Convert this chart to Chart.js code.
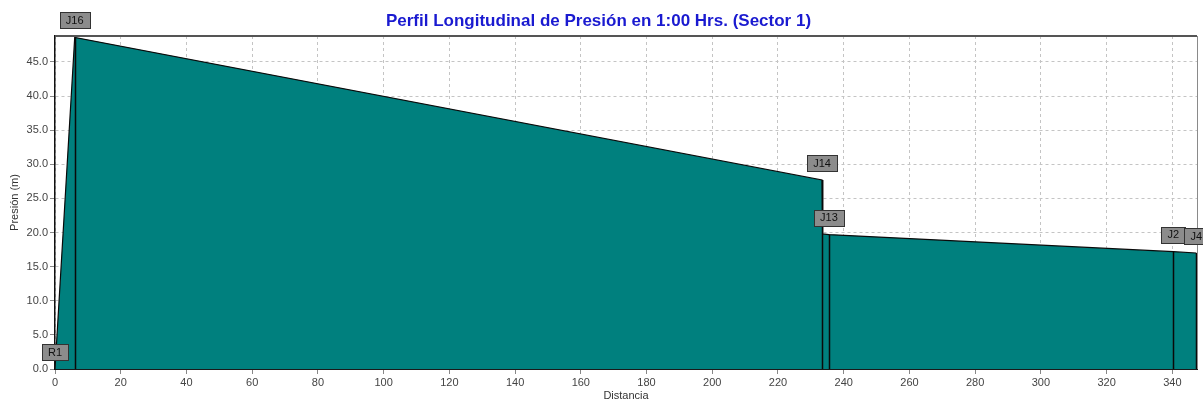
<!DOCTYPE html>
<html>
<head>
<meta charset="utf-8">
<script src="https://cdn.jsdelivr.net/npm/chart.js@4.4.1/dist/chart.umd.min.js"></script>
<style>
  html, body { margin: 0; padding: 0; background: #ffffff; }
  #wrap { width: 1203px; height: 403px; position: relative; }
</style>
</head>
<body>
<div id="wrap"><canvas id="c" width="1203" height="403"></canvas></div>
<script>
// Data
const distancia = [0, 6.0, 233.4, 233.6, 235.5, 340.3, 347.3];
const presion   = [0.0, 48.6, 27.7, 19.8, 19.7, 17.2, 17.0];
const nodos     = ['R1', 'J16', 'J14', '', 'J13', 'J2', 'J4'];
const nodoLinea = [false, true, true, false, true, true, true];
const xTicks = [0, 20, 40, 60, 80, 100, 120, 140, 160, 180, 200, 220, 240, 260, 280, 300, 320, 340];
const yTicks = [0, 5, 10, 15, 20, 25, 30, 35, 40, 45];
const titulo = 'Perfil Longitudinal de Presión en 1:00 Hrs. (Sector 1)';
const ejeX = 'Distancia';
const ejeY = 'Presión (m)';
const xMax = 347.5, yMax = 48.8;

const FONT = '"Liberation Sans", Arial, sans-serif';

const puntos = distancia.map((d, i) => ({ x: d, y: presion[i] }));

const marcoPlugin = {
  id: 'marco',
  afterDatasetsDraw(chart) {
    const { ctx, chartArea: a, scales: { x, y } } = chart;
    ctx.save();
    ctx.strokeStyle = '#0a0a0a';
    ctx.lineWidth = 1.5;
    distancia.forEach((d, i) => {
      if (!nodoLinea[i]) return;
      const px = Math.round(x.getPixelForValue(d)) + 0.5;
      ctx.beginPath();
      ctx.moveTo(px, y.getPixelForValue(presion[i]));
      ctx.lineTo(px, y.getPixelForValue(0));
      ctx.stroke();
    });
    ctx.strokeStyle = '#555555';
    ctx.lineWidth = 2;
    ctx.beginPath();
    ctx.moveTo(a.left, a.top);
    ctx.lineTo(a.right, a.top);
    ctx.stroke();
    ctx.strokeStyle = '#8a8a8a';
    ctx.lineWidth = 1;
    ctx.beginPath();
    ctx.moveTo(a.right + 0.5, a.top);
    ctx.lineTo(a.right + 0.5, a.bottom);
    ctx.stroke();
    ctx.restore();
  },
  afterDraw(chart) {
    const { ctx, scales: { x, y } } = chart;
    ctx.save();
    ctx.font = '11px ' + FONT;
    ctx.textAlign = 'center';
    ctx.textBaseline = 'middle';
    distancia.forEach((d, i) => {
      const name = nodos[i];
      if (!name) return;
      const cx = x.getPixelForValue(d);
      const cy = y.getPixelForValue(presion[i]) - 17;
      const w = Math.round(ctx.measureText(name).width + 12);
      const h = 16;
      const lx = Math.round(cx - w / 2) + 0.5;
      const ly = Math.round(cy - h / 2) + 0.5;
      ctx.fillStyle = '#8c8c8c';
      ctx.fillRect(lx, ly, w, h);
      ctx.strokeStyle = '#333333';
      ctx.lineWidth = 1;
      ctx.strokeRect(lx, ly, w, h);
      ctx.fillStyle = '#111111';
      ctx.fillText(name, cx, cy + 0.5);
    });
    ctx.restore();
  }
};

new Chart(document.getElementById('c'), {
  type: 'line',
  data: {
    datasets: [{
      data: puntos,
      borderColor: '#0a0a0a',
      borderWidth: 1.2,
      backgroundColor: '#00807e',
      fill: 'origin',
      pointRadius: 0,
      tension: 0
    }]
  },
  options: {
    responsive: false,
    animation: false,
    devicePixelRatio: 1,
    layout: { padding: { top: 0, right: 6, bottom: 0, left: 0 } },
    plugins: {
      legend: { display: false },
      tooltip: { enabled: false },
      title: {
        display: true,
        text: titulo,
        color: '#1a1ad0',
        font: { family: FONT, size: 17, weight: 'bold', lineHeight: 1.2 },
        padding: { top: 10.8, bottom: 4.8 }
      }
    },
    scales: {
      x: {
        type: 'linear',
        min: 0,
        max: xMax,
        afterBuildTicks(s) { s.ticks = xTicks.map(v => ({ value: v })); },
        afterFit(s) { s.height = 34; },
        ticks: {
          autoSkip: false,
          maxRotation: 0,
          padding: 2,
          color: '#444444',
          font: { family: FONT, size: 11 },
          callback: v => String(v)
        },
        grid: {
          color: '#c4c4c4',
          lineWidth: 1,
          tickLength: 5,
          tickColor: '#888888',
          tickBorderDash: []
        },
        border: { display: true, color: '#1a1a1a', width: 2, dash: [3, 3] },
        title: {
          display: true,
          text: ejeX,
          color: '#333333',
          font: { family: FONT, size: 11 },
          padding: { top: 0, bottom: 0 }
        }
      },
      y: {
        type: 'linear',
        min: 0,
        max: yMax,
        afterBuildTicks(s) { s.ticks = yTicks.map(v => ({ value: v })); },
        afterFit(s) { s.width = 55; },
        ticks: {
          autoSkip: false,
          padding: 2,
          color: '#444444',
          font: { family: FONT, size: 11 },
          callback: v => Number(v).toFixed(1)
        },
        grid: {
          color: '#c4c4c4',
          lineWidth: 1,
          tickLength: 5,
          tickColor: '#888888',
          tickBorderDash: []
        },
        border: { display: true, color: '#111111', width: 1.5, dash: [3, 3] },
        title: {
          display: true,
          text: ejeY,
          color: '#333333',
          font: { family: FONT, size: 11 },
          padding: { top: 8, bottom: 0 }
        }
      }
    }
  },
  plugins: [marcoPlugin]
});
</script>
</body>
</html>
